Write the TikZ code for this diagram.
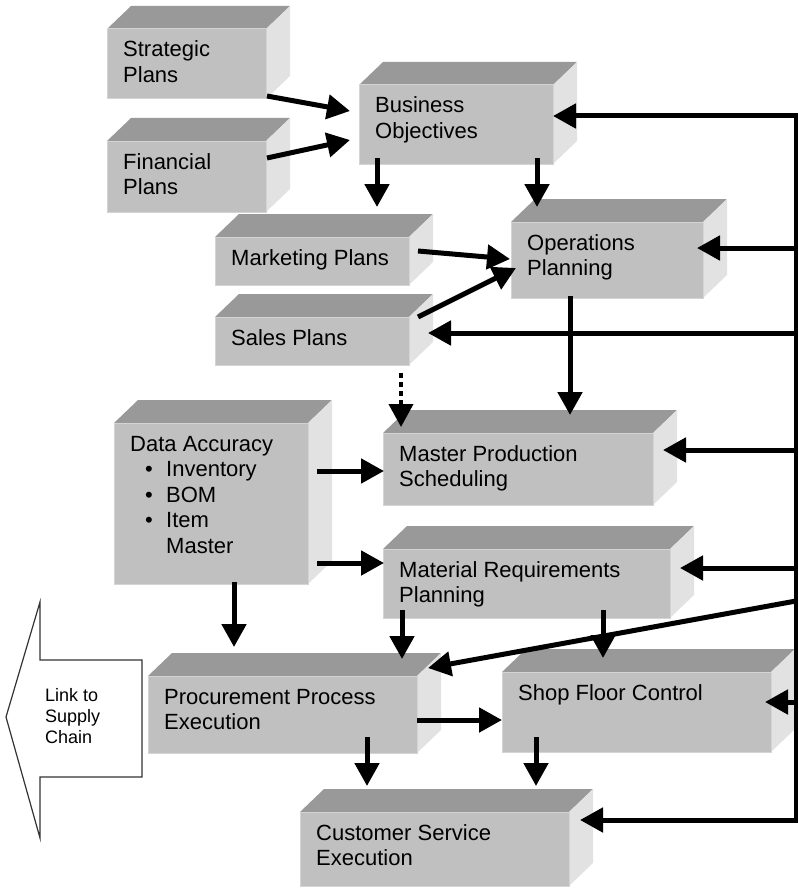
\documentclass[tikz,border=0pt]{standalone}
\usepackage{fontspec}
\setmainfont{Liberation Sans}
\usetikzlibrary{arrows.meta,calc}
\definecolor{cfront}{HTML}{C0C0C0}
\definecolor{ctop}{HTML}{999999}
\definecolor{cside}{HTML}{E2E2E2}
\definecolor{cedge}{HTML}{D4D4D4}
\tikzset{
  face/.style={draw=cedge, line width=1pt, fill=cfront, inner sep=0pt, outer sep=0pt},
  arr/.style={line width=5pt, -{Triangle[length=23pt,width=24pt]}},
  dotarr/.style={line width=4pt, dash pattern=on 5pt off 4pt, -{Triangle[length=23pt,width=24pt]}},
  lbl/.style={anchor=base west, inner sep=0pt, font=\fontsize{22}{25.5}\selectfont},
  linklbl/.style={anchor=base west, inner sep=0pt, font=\fontsize{18}{21}\selectfont},
  bus/.style={line width=4.5pt},
  bigarrow/.style={draw=black!80, line width=1.2pt, fill=white},
}
% \blk{name}{left}{top}{right}{bottom}{text}
\newcommand\blk[6]{%
  \fill[ctop] (#2,#3) -- (#2+24,#3-23) -- (#4+24,#3-23) -- (#4,#3) -- cycle;
  \fill[cside] (#4,#3) -- (#4+24,#3-23) -- (#4+24,#5-23) -- (#4,#5) -- cycle;
  \node[face, minimum width={(#4-#2)*1pt}, minimum height={(#5-#3)*1pt}] (#1) at ({(#2+#4)/2},{(#3+#5)/2}) {};
  \node[lbl] (#1t) at (#2+16,#3+28) {\begin{tabular}[t]{@{}l@{}}#6\end{tabular}};
}
\begin{document}
\begin{tikzpicture}[x=1pt,y=-1pt]
\useasboundingbox (0,0) rectangle (798,888);

% boxes
\blk{sp}{107}{29}{266}{99}{Strategic\\Plans}
\blk{fp}{107}{141}{266}{212}{Financial\\Plans}
\blk{bo}{359}{85}{553}{164}{Business\\Objectives}
\blk{mk}{215}{237}{409}{285}{Marketing Plans}
\blk{sl}{215}{317}{409}{365}{Sales Plans}
\blk{op}{511}{222}{703}{298}{Operations\\Planning}
\blk{da}{114}{423}{308}{584}{Data Accuracy\\
  \hspace*{15pt}\makebox[21pt][l]{•}Inventory\\
  \hspace*{15pt}\makebox[21pt][l]{•}BOM\\
  \hspace*{15pt}\makebox[21pt][l]{•}Item\\
  \hspace*{36pt}Master}
\blk{mps}{383}{433}{653}{505}{Master Production\\Scheduling}
\blk{mrp}{383}{549}{670}{618}{Material Requirements\\Planning}
\blk{pp}{148}{676}{417}{753}{Procurement Process\\Execution}
\blk{sfc}{502}{672}{771}{752}{Shop Floor Control}
\blk{cs}{300}{812}{569}{886}{Customer Service\\Execution}

% link to supply chain
\draw[bigarrow] (6,717) -- (40,602) -- (40,660) -- (142,660) -- (142,777) -- (40,777) -- (40,838) -- cycle;
\node[linklbl] (lk) at (45,701) {\begin{tabular}[t]{@{}l@{}}Link to\\Supply\\Chain\end{tabular}};

% feedback bus on the right
\coordinate (b1) at (796,116);
\coordinate (b2) at (796,248);
\coordinate (b3) at (796,333);
\coordinate (b4) at (796,450);
\coordinate (b5) at (796,568);
\coordinate (b6) at (796,601);
\coordinate (b7) at (796,702);
\coordinate (b8) at (796,820);
\draw[bus] ($(b1)+(0,-2.5)$) -- ($(b8)+(0,2.5)$);

% arrows
\draw[arr] ($(sp.south east)+(1,-3)$) -- ($(bo.north west)+(-9,26)$);
\draw[arr] ($(fp.east)+(1,-18.5)$) -- ($(bo.west)+(-9,15.5)$);
\draw[arr] ($(bo.south west)+(18,-6)$) -- ($(mk.north west)+(162,-30)$);
\draw[arr] ($(bo.south east)+(-16,-6)$) -- ($(op.north west)+(26,-15)$);
\draw[arr] ($(mk.east)+(9,-10)$) -- ($(op.west)+(-1,-1)$);
\draw[arr] ($(sl.north east)+(9,0)$) -- ($(op.west)+(5,8)$);
\draw[arr] (b1) -- ($(bo.east)+(0,-8.5)$);
\draw[arr] (b2) -- ($(op.east)+(-6,-12)$);
\draw[arr] (b3) -- ($(sl.east)+(19,-8)$);
\draw[arr] ($(op.south)+(-37,-2)$) -- ($(mps.north west)+(187,-18)$);
\draw[dotarr] ($(sl.south west)+(186,8)$) -- ($(mps.north west)+(18,-6)$);
\draw[arr] ($(da.east)+(9,-32.5)$) -- ($(mps.west)+(1,2)$);
\draw[arr] ($(da.east)+(9,59.5)$) -- ($(mrp.west)+(1,-20.5)$);
\draw[arr] (b4) -- ($(mps.east)+(10,-19)$);
\draw[arr] (b5) -- ($(mrp.east)+(10,-15.5)$);
\draw[arr] ($(da.south)+(23,-2)$) -- ($(pp.north west)+(86,-29)$);
\draw[arr] ($(mrp.south west)+(19,-8)$) -- ($(pp.north east)+(-15,-17)$);
\draw[arr] ($(mrp.south east)+(-67,-8)$) -- ($(sfc.north west)+(101,-14)$);
\draw[arr] (b6) -- ($(pp.north east)+(11,-8)$);
\draw[arr] ($(pp.east)+(0,5.5)$) -- ($(sfc.west)+(0,8)$);
\draw[arr] (b7) -- ($(sfc.east)+(-6,-10)$);
\draw[arr] ($(pp.south west)+(219,-16)$) -- ($(cs.north west)+(67,-26)$);
\draw[arr] ($(sfc.south west)+(34,-15)$) -- ($(cs.north east)+(-33,-26)$);
\draw[arr] (b8) -- ($(cs.east)+(11,-29)$);
\end{tikzpicture}
\end{document}
